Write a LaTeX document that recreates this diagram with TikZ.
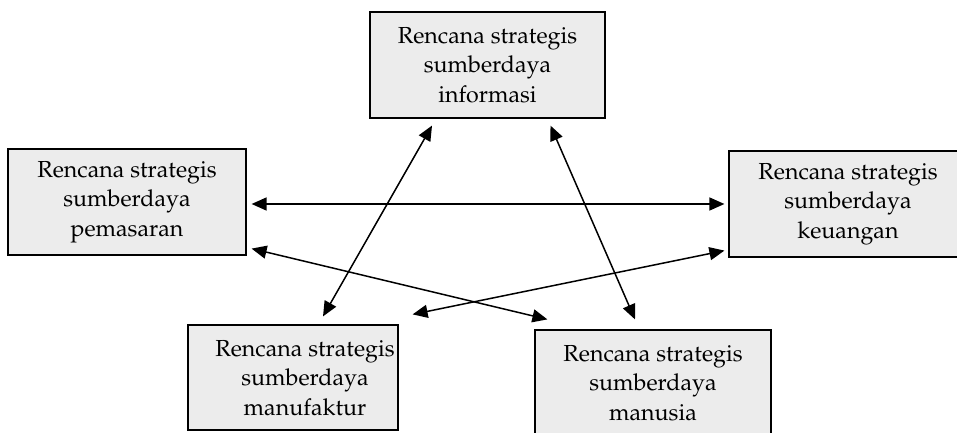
\documentclass[tikz,border=0pt]{standalone}
\usepackage[T1]{fontenc}
\usepackage{mathpazo}
\usetikzlibrary{arrows.meta}
\usetikzlibrary{calc}

\tikzset{
  plan/.style={draw,line width=1.2pt,fill=gray!15,inner sep=0pt,minimum width=238pt,minimum height=106pt,align=center,font=\fontsize{23.2}{29.5}\selectfont},
  link/.style={<->,line width=1.5pt},
}

\begin{document}
\begin{tikzpicture}[x=1pt,y=1pt,>={Triangle[length=15pt,width=13pt]}]
\useasboundingbox (0,0) rectangle (957,433);
\clip (0,0) rectangle (957,433);
\node [plan,minimum width=235pt] (informasi) at (487.5,368) {Rencana strategis\\sumberdaya\\informasi};
\node [plan] (pemasaran) at (127,231) {Rencana strategis\\sumberdaya\\pemasaran};
\node [plan] (keuangan) at (848,229) {Rencana strategis\\sumberdaya\\keuangan};
\node [plan,minimum width=210pt,minimum height=105pt] (manufaktur) at (293,55.5)
  {\hspace*{24pt}Rencana strategis\\\hspace*{24pt}sumberdaya\\\hspace*{24pt}manufaktur};
\node [plan,minimum width=236pt] (manusia) at (653,50) {Rencana strategis\\sumberdaya\\manusia};
% links between the plans
\draw [link] ($ (pemasaran.east) + (5,-2) $) -- ($ (keuangan.west) + (-4,0) $);
\draw [link] ($ (pemasaran.south east) + (5,7) $) -- ($ (manusia.north west) + (13,10) $);
\draw [link] ($ (keuangan.south west) + (-4,7) $) -- ($ (manufaktur.north east) + (14,10) $);
\draw [link] ($ (informasi.south) + (-55.5,-7) $) -- ($ (manufaktur.north) + (30,8) $);
\draw [link] ($ (informasi.south) + (63,-7) $) -- ($ (manusia.north) + (-18,10) $);
\end{tikzpicture}
\end{document}
